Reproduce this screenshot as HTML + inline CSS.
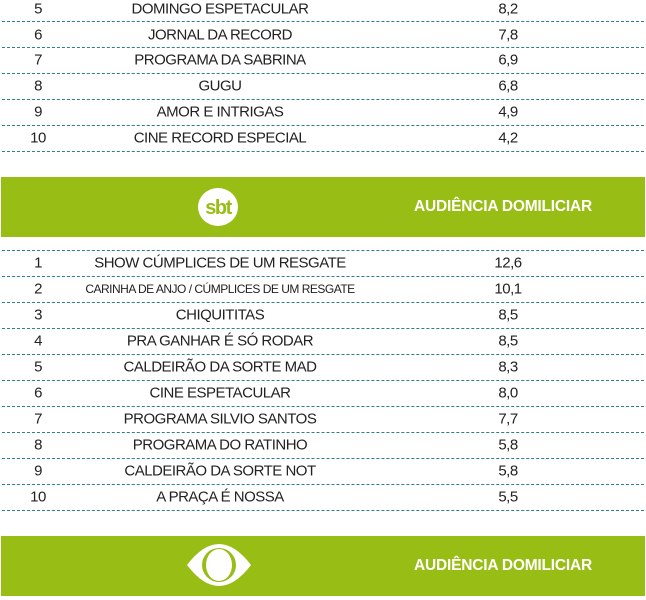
<!DOCTYPE html>
<html><head><meta charset="utf-8"><style>
body{margin:0;width:646px;height:600px;background:#fff;position:relative;overflow:hidden;font-family:"Liberation Sans",sans-serif;color:#222}
.r{position:absolute;left:0;width:646px;height:26px;font-size:15px;letter-spacing:-0.5px}
.r span{position:absolute;top:50%;transform:translate(-50%,-50%);white-space:nowrap}
.l{position:absolute;left:2px;width:642px;border-top:1px dashed #2d8088}
.band{position:absolute;left:1px;width:644px;height:60px;background:#98bd15}
.band .t{position:absolute;left:502px;top:50%;transform:translate(-50%,-50%);color:#fff;font-weight:bold;font-size:15.5px;letter-spacing:-0.2px;white-space:nowrap}
</style></head><body>
<div class="r" style="top:-4px"><span style="left:38px">5</span><span style="left:220px">DOMINGO ESPETACULAR</span><span style="left:508px">8,2</span></div>
<div class="l" style="top:21px"></div>
<div class="r" style="top:22px"><span style="left:38px">6</span><span style="left:220px">JORNAL DA RECORD</span><span style="left:508px">7,8</span></div>
<div class="l" style="top:47px"></div>
<div class="r" style="top:47px"><span style="left:38px">7</span><span style="left:220px">PROGRAMA DA SABRINA</span><span style="left:508px">6,9</span></div>
<div class="l" style="top:73px"></div>
<div class="r" style="top:73px"><span style="left:38px">8</span><span style="left:220px">GUGU</span><span style="left:508px">6,8</span></div>
<div class="l" style="top:99px"></div>
<div class="r" style="top:99px"><span style="left:38px">9</span><span style="left:220px">AMOR E INTRIGAS</span><span style="left:508px">4,9</span></div>
<div class="l" style="top:125px"></div>
<div class="r" style="top:125px"><span style="left:38px">10</span><span style="left:220px">CINE RECORD ESPECIAL</span><span style="left:508px">4,2</span></div>
<div class="l" style="top:151px"></div>

<div class="band" style="top:177px">
<svg style="position:absolute;left:196px;top:9px" width="42" height="42"><ellipse cx="21" cy="21" rx="20" ry="19" fill="#fff"/><text x="21" y="28" text-anchor="middle" font-family="Liberation Sans" font-weight="bold" font-size="20" fill="#98bd15" letter-spacing="-1.5">sbt</text></svg>
<div class="t">AUDIÊNCIA DOMILICIAR</div></div>

<div class="l" style="top:250px"></div>
<div class="r" style="top:250px"><span style="left:38px">1</span><span style="left:220px">SHOW CÚMPLICES DE UM RESGATE</span><span style="left:508px">12,6</span></div>
<div class="l" style="top:276px"></div>
<div class="r" style="top:276px"><span style="left:38px">2</span><span style="left:220px;font-size:12px">CARINHA DE ANJO / CÚMPLICES DE UM RESGATE</span><span style="left:508px">10,1</span></div>
<div class="l" style="top:302px"></div>
<div class="r" style="top:302px"><span style="left:38px">3</span><span style="left:220px">CHIQUITITAS</span><span style="left:508px">8,5</span></div>
<div class="l" style="top:328px"></div>
<div class="r" style="top:328px"><span style="left:38px">4</span><span style="left:220px">PRA GANHAR É SÓ RODAR</span><span style="left:508px">8,5</span></div>
<div class="l" style="top:354px"></div>
<div class="r" style="top:354px"><span style="left:38px">5</span><span style="left:220px">CALDEIRÃO DA SORTE MAD</span><span style="left:508px">8,3</span></div>
<div class="l" style="top:380px"></div>
<div class="r" style="top:380px"><span style="left:38px">6</span><span style="left:220px">CINE ESPETACULAR</span><span style="left:508px">8,0</span></div>
<div class="l" style="top:406px"></div>
<div class="r" style="top:406px"><span style="left:38px">7</span><span style="left:220px">PROGRAMA SILVIO SANTOS</span><span style="left:508px">7,7</span></div>
<div class="l" style="top:432px"></div>
<div class="r" style="top:432px"><span style="left:38px">8</span><span style="left:220px">PROGRAMA DO RATINHO</span><span style="left:508px">5,8</span></div>
<div class="l" style="top:458px"></div>
<div class="r" style="top:458px"><span style="left:38px">9</span><span style="left:220px">CALDEIRÃO DA SORTE NOT</span><span style="left:508px">5,8</span></div>
<div class="l" style="top:484px"></div>
<div class="r" style="top:484px"><span style="left:38px">10</span><span style="left:220px">A PRAÇA É NOSSA</span><span style="left:508px">5,5</span></div>
<div class="l" style="top:510px"></div>

<div class="band" style="top:536px">
<svg style="position:absolute;left:185px;top:7px" width="66" height="44"><path d="M1 22 Q33 -20 65 22 Q33 64 1 22Z" fill="#fff"/><circle cx="33" cy="22" r="17" fill="#98bd15"/><ellipse cx="33" cy="22" rx="13" ry="16" fill="#fff"/></svg>
<div class="t">AUDIÊNCIA DOMILICIAR</div></div>
</body></html>
